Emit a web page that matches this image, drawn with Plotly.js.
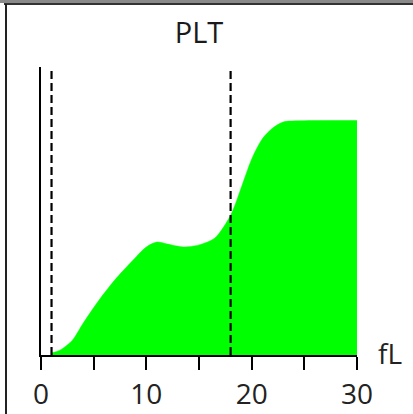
<!DOCTYPE html>
<html>
<head>
<meta charset="utf-8">
<script src="https://cdn.plot.ly/plotly-3.0.1.min.js"></script>
<style>
html,body{margin:0;padding:0;background:#fff;}
#wrap{position:relative;width:413px;height:414px;overflow:hidden;}
#chart{position:absolute;left:0;top:0;width:413px;height:414px;}
#topbar{position:absolute;left:0;top:0;width:413px;height:3px;background:#8a8a8a;}
#topline{position:absolute;left:4px;top:3px;width:409px;height:2px;background:#333;}
#leftline{position:absolute;left:5px;top:4px;width:2px;height:410px;background:#222;}
</style>
</head>
<body>
<div id="wrap">
<div id="chart"></div>
<div id="topbar"></div>
<div id="topline"></div>
<div id="leftline"></div>
</div>
<script>
// Histogram envelope (fL vs relative count)
const volumeFL = [1, 1.5, 2, 3, 4, 5.5, 7, 8.5, 10, 11, 12, 13.5, 15, 16.5, 18, 19, 20, 21, 22, 23, 24.5, 27, 30];
const counts   = [0.7, 1.2, 2.1, 5.2, 11, 19, 26, 32, 37.5, 39.2, 38.5, 37.5, 38.2, 40.6, 48.5, 58, 68, 75, 78.8, 80.9, 81.3, 81.4, 81.4];
const discriminators = [1, 18];
const xTicks = [0, 5, 10, 15, 20, 25, 30];
const xTickText = ['0', '', '10', '', '20', '', '30'];
const chartTitle = 'PLT';
const unitLabel = 'fL';

const trace = {
  x: volumeFL,
  y: counts,
  type: 'scatter',
  mode: 'lines',
  fill: 'tozeroy',
  fillcolor: '#00ff00',
  line: {color: '#00ff00', width: 0.5, shape: 'spline', smoothing: 0.8},
  hoverinfo: 'skip'
};

const shapes = discriminators.map(v => ({
  type: 'line', xref: 'x', yref: 'paper',
  x0: v, x1: v, y0: 0, y1: 1,
  line: {color: '#000', width: 2.2, dash: '8px,4px'}
}));

const layout = {
  width: 413, height: 414,
  margin: {l: 41, r: 56, t: 67, b: 59},
  paper_bgcolor: '#fff', plot_bgcolor: 'rgba(0,0,0,0)',
  showlegend: false,
  font: {family: '"Open Sans", sans-serif', color: '#222'},
  title: {text: chartTitle, x: 0.5, xref: 'paper', y: 1 - 33/414, yref: 'container',
          yanchor: 'middle', xanchor: 'center', font: {size: 29, color: '#1a1a1a'}},
  xaxis: {
    range: [0, 30], showgrid: false, zeroline: false,
    showline: true, linecolor: '#000', linewidth: 2,
    ticks: 'outside', ticklen: 13, tickwidth: 2, tickcolor: '#000',
    tickvals: xTicks, ticktext: xTickText,
    tickfont: {size: 28, color: '#222'}, fixedrange: true
  },
  yaxis: {
    range: [0, 100], showgrid: false, zeroline: false,
    showline: true, linecolor: '#000', linewidth: 2.5,
    showticklabels: false, ticks: '', fixedrange: true
  },
  shapes: shapes,
  annotations: [{
    text: unitLabel, xref: 'paper', yref: 'paper', x: 1.06, y: 0.0,
    xanchor: 'left', yanchor: 'middle', showarrow: false,
    font: {size: 28, color: '#222'}, yshift: 2
  }]
};

Plotly.newPlot('chart', [trace], layout, {staticPlot: true, displayModeBar: false});
</script>
</body>
</html>
